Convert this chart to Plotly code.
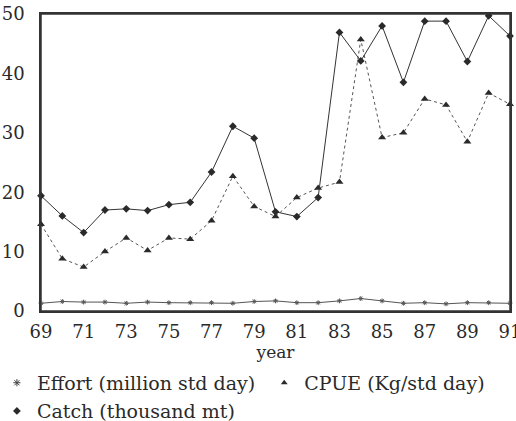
import plotly.graph_objects as go

years = list(range(69, 92))
catch = [19.4, 16.0, 13.2, 17.0, 17.2, 16.9, 17.9, 18.3, 23.4, 31.1, 29.1, 16.7, 15.9, 19.1,
         46.9, 42.1, 48.0, 38.5, 48.8, 48.8, 42.0, 49.7, 46.3]
cpue = [14.6, 8.8, 7.4, 10.0, 12.3, 10.2, 12.3, 12.1, 15.2, 22.7, 17.6, 15.9, 19.1, 20.7,
        21.7, 45.7, 29.2, 30.0, 35.7, 34.7, 28.5, 36.7, 34.8]
effort = [1.3, 1.6, 1.5, 1.5, 1.3, 1.5, 1.4, 1.4, 1.4, 1.3, 1.6, 1.7, 1.4, 1.4,
          1.7, 2.1, 1.7, 1.3, 1.4, 1.2, 1.4, 1.4, 1.3]
x_ticks = [69, 71, 73, 75, 77, 79, 81, 83, 85, 87, 89, 91]
y_ticks = [0, 10, 20, 30, 40, 50]

FONT = "DejaVu Serif"
INK = "#2a2a2a"

fig = go.Figure()
# data traces
fig.add_trace(go.Scatter(x=years, y=effort, mode="lines+markers", showlegend=False,
                         line=dict(color="#555", width=1),
                         marker=dict(symbol="asterisk-open", size=4, color="#555", line=dict(width=1, color="#555")),
                         cliponaxis=False))
fig.add_trace(go.Scatter(x=years, y=cpue, mode="lines+markers", showlegend=False,
                         line=dict(color="#555", width=1, dash="dot"),
                         marker=dict(symbol="triangle-up", size=7, color=INK),
                         cliponaxis=False))
fig.add_trace(go.Scatter(x=years, y=catch, mode="lines+markers", showlegend=False,
                         line=dict(color="#333", width=1),
                         marker=dict(symbol="diamond", size=6, color=INK),
                         cliponaxis=False))
# legend entries (markers only)
fig.add_trace(go.Scatter(x=[None], y=[None], mode="markers", name="Effort (million std day)",
                         legend="legend",
                         marker=dict(symbol="asterisk-open", size=6, color="#444", line=dict(width=1, color="#444"))))
fig.add_trace(go.Scatter(x=[None], y=[None], mode="markers", name="CPUE (Kg/std day)",
                         legend="legend2",
                         marker=dict(symbol="triangle-up", size=6, color=INK)))
fig.add_trace(go.Scatter(x=[None], y=[None], mode="markers", name="Catch (thousand mt)",
                         legend="legend3",
                         marker=dict(symbol="diamond", size=6, color=INK)))

leg_common = dict(orientation="h", xanchor="left", yanchor="top",
                  font=dict(family=FONT, size=19, color=INK),
                  itemwidth=30, bgcolor="rgba(0,0,0,0)", borderwidth=0)

fig.update_layout(
    width=516, height=421,
    margin=dict(l=41, r=6, t=14, b=110, autoexpand=False),
    paper_bgcolor="white", plot_bgcolor="white",
    font=dict(family=FONT, size=18, color=INK),
    legend=dict(x=-0.094, y=-0.178, **leg_common),
    legend2=dict(x=0.476, y=-0.178, **leg_common),
    legend3=dict(x=-0.094, y=-0.273, **leg_common),
    showlegend=True,
    shapes=[dict(type="rect", xref="paper", yref="paper", x0=0, x1=1, y0=0, y1=1,
                 line=dict(color="#333", width=1.5), layer="below")],
)
fig.update_xaxes(range=[69, 91], tickvals=x_ticks, ticktext=[str(v) for v in x_ticks],
                 showgrid=False, zeroline=False, showline=True, mirror=True,
                 linecolor="#333", linewidth=1.5, ticks="outside", ticklen=0,
                 ticklabelstandoff=4, tickfont=dict(size=18), automargin=False,
                 ticklabeloverflow="allow",
                 title=dict(text="year", font=dict(size=17), standoff=0))
fig.update_yaxes(range=[0, 50], tickvals=y_ticks, ticktext=[str(v) for v in y_ticks],
                 showgrid=False, zeroline=False, showline=True, mirror=True,
                 linecolor="#333", linewidth=1.5, ticks="outside", ticklen=0,
                 ticklabelstandoff=11, tickfont=dict(size=18), automargin=False,
                 ticklabeloverflow="allow")

fig.write_html("out.html", config={"displayModeBar": False},
               post_script="document.body.style.margin='0';")
